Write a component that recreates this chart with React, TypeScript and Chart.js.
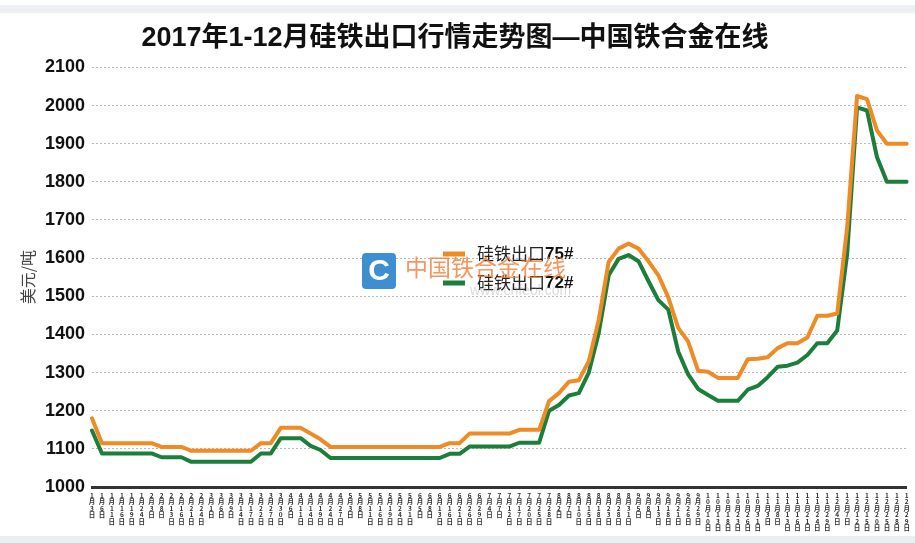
import React, { useEffect, useRef } from 'react';
import { Chart, registerables } from 'chart.js';

Chart.register(...registerables);

const chartTitle = '2017年1-12月硅铁出口行情走势图—中国铁合金在线';
const yAxisTitle = '美元/吨';
const seriesNames = ['硅铁出口75#', '硅铁出口72#'];
const seriesColors = ['#F08A24', '#1B7F3B'];
const yMin = 1000;
const yMax = 2100;
const yStep = 100;

const dates = [
  '1月3日', '1月6日', '1月11日', '1月16日', '1月19日', '1月24日',
  '2月3日', '2月8日', '2月13日', '2月16日', '2月21日', '2月24日',
  '3月1日', '3月6日', '3月9日', '3月14日', '3月17日', '3月22日', '3月27日', '3月30日',
  '4月6日', '4月11日', '4月14日', '4月19日', '4月24日', '4月27日',
  '5月3日', '5月8日', '5月11日', '5月16日', '5月19日', '5月24日', '5月31日',
  '6月5日', '6月8日', '6月13日', '6月16日', '6月21日', '6月26日', '6月29日',
  '7月4日', '7月7日', '7月12日', '7月17日', '7月20日', '7月25日', '7月28日',
  '8月2日', '8月7日', '8月10日', '8月15日', '8月18日', '8月23日', '8月28日', '8月31日',
  '9月5日', '9月8日', '9月13日', '9月18日', '9月21日', '9月26日', '9月29日',
  '10月10日', '10月13日', '10月18日', '10月23日', '10月26日', '10月31日',
  '11月3日', '11月8日', '11月13日', '11月16日', '11月21日', '11月24日', '11月29日',
  '12月4日', '12月7日', '12月12日', '12月15日', '12月20日', '12月25日', '12月28日', '12月29日',
];

const fesi75 = [
  1180,
  1115, 1115, 1115, 1115, 1115, 1115,
  1105, 1105, 1105,
  1095, 1095, 1095, 1095, 1095, 1095, 1095,
  1115, 1115,
  1155, 1155, 1155,
  1140, 1125,
  1105, 1105, 1105, 1105, 1105, 1105, 1105, 1105, 1105, 1105, 1105, 1105,
  1115, 1115,
  1140, 1140, 1140, 1140, 1140,
  1150, 1150, 1150,
  1225, 1246, 1276, 1280, 1330, 1438, 1590, 1625, 1638, 1625,
  1592, 1555, 1497, 1417, 1381, 1305, 1302, 1286, 1286, 1286,
  1335, 1336, 1340, 1364, 1377, 1377, 1392, 1449, 1449, 1455,
  1680, 2025, 2017, 1935, 1900, 1900, 1900,
];

const fesi72 = [
  1148,
  1088, 1088, 1088, 1088, 1088, 1088,
  1078, 1078, 1078,
  1066, 1066, 1066, 1066, 1066, 1066, 1066,
  1088, 1088,
  1128, 1128, 1128,
  1108, 1097,
  1076, 1076, 1076, 1076, 1076, 1076, 1076, 1076, 1076, 1076, 1076, 1076,
  1087, 1087,
  1106, 1106, 1106, 1106, 1106,
  1116, 1116, 1116,
  1200, 1215, 1240, 1246, 1300, 1404, 1555, 1598, 1608, 1592,
  1540, 1490, 1465, 1355, 1295, 1257, 1241, 1226, 1226, 1226,
  1255, 1265, 1288, 1315, 1318, 1326, 1346, 1377, 1377, 1410,
  1610, 1995, 1987, 1865, 1800, 1800, 1800,
];

const cjk = '"Liberation Sans", "Noto Sans CJK SC", sans-serif';

const overlayPlugin = {
  id: 'overlayPlugin',
  beforeDraw(chart: any) {
    const ctx = chart.ctx;
    ctx.save();
    ctx.fillStyle = '#ffffff';
    ctx.fillRect(0, 0, chart.width, chart.height);
    ctx.fillStyle = '#eceef2';
    ctx.fillRect(0, 5, chart.width, 8);
    ctx.fillRect(0, 536, chart.width, 7);
    ctx.restore();
  },
  afterDraw(chart: any) {
    const ctx = chart.ctx;
    ctx.save();
    chart.data.datasets.forEach((ds: any, i: number) => {
      const y = 254 + i * 29;
      ctx.strokeStyle = ds.borderColor;
      ctx.lineWidth = 5;
      ctx.lineCap = 'butt';
      ctx.beginPath();
      ctx.moveTo(443, y);
      ctx.lineTo(465, y);
      ctx.stroke();
      const m = /^(.*?)(\d+#)$/.exec(ds.label) || [ds.label, ds.label, ''];
      ctx.textBaseline = 'middle';
      ctx.textAlign = 'left';
      ctx.fillStyle = '#222';
      ctx.font = '17px "Noto Sans CJK SC", sans-serif';
      ctx.fillText(m[1], 477, y);
      const w = ctx.measureText(m[1]).width;
      ctx.font = 'bold 17px "Liberation Sans", sans-serif';
      ctx.fillStyle = '#111';
      ctx.fillText(m[2], 477 + w, y);
    });
    ctx.fillStyle = '#3d8fd1';
    const bx = 362, by = 253, bw = 34, bh = 36, r = 4;
    ctx.beginPath();
    ctx.moveTo(bx + r, by);
    ctx.lineTo(bx + bw - r, by);
    ctx.quadraticCurveTo(bx + bw, by, bx + bw, by + r);
    ctx.lineTo(bx + bw, by + bh - r);
    ctx.quadraticCurveTo(bx + bw, by + bh, bx + bw - r, by + bh);
    ctx.lineTo(bx + r, by + bh);
    ctx.quadraticCurveTo(bx, by + bh, bx, by + bh - r);
    ctx.lineTo(bx, by + r);
    ctx.quadraticCurveTo(bx, by, bx + r, by);
    ctx.fill();
    ctx.fillStyle = '#ffffff';
    ctx.font = 'bold 30px "Liberation Sans", sans-serif';
    ctx.textAlign = 'center';
    ctx.textBaseline = 'middle';
    ctx.fillText('C', bx + bw / 2, by + bh / 2 + 1);
    ctx.textAlign = 'left';
    ctx.fillStyle = 'rgba(240, 120, 50, 0.78)';
    ctx.font = '23px "Noto Sans CJK SC", sans-serif';
    ctx.fillText('中国铁合金在线', 405, 267);
    ctx.fillStyle = 'rgba(150, 150, 150, 0.35)';
    ctx.font = '14px "Liberation Sans", sans-serif';
    ctx.fillText('www.cnfeol.com', 470, 291);
    ctx.restore();
  },
};

export default function App() {
  const canvasRef = useRef<HTMLCanvasElement | null>(null);

  useEffect(() => {
    if (!canvasRef.current) return;
    const chart = new Chart(canvasRef.current, {
      type: 'line',
      data: {
        labels: dates,
        datasets: [
          {
            label: seriesNames[0],
            data: fesi75,
            borderColor: seriesColors[0],
            backgroundColor: seriesColors[0],
            borderWidth: 4,
            pointRadius: 0,
            tension: 0,
            borderJoinStyle: 'round',
            borderCapStyle: 'round',
          },
          {
            label: seriesNames[1],
            data: fesi72,
            borderColor: seriesColors[1],
            backgroundColor: seriesColors[1],
            borderWidth: 4,
            pointRadius: 0,
            tension: 0,
            borderJoinStyle: 'round',
            borderCapStyle: 'round',
          },
        ],
      },
      options: {
        responsive: false,
        animation: false,
        layout: { padding: { left: 0, right: 5, top: 0, bottom: 0 } },
        plugins: {
          legend: { display: false },
          tooltip: { enabled: false },
          title: {
            display: true,
            text: chartTitle,
            color: '#111',
            font: { family: cjk, size: 27, weight: 'bold', lineHeight: 1.2 },
            padding: { top: 22, bottom: 13 },
          },
        },
        scales: {
          x: {
            type: 'category',
            offset: false,
            afterFit: (scale: any) => {
              scale.height = 56;
            },
            grid: { display: false, drawTicks: false },
            border: { display: true, color: '#333', width: 3 },
            ticks: {
              autoSkip: false,
              maxRotation: 0,
              minRotation: 0,
              padding: 5,
              color: '#333',
              font: { family: '"Noto Sans CJK SC", sans-serif', size: 6.5, weight: 'bold', lineHeight: 1.0 },
              callback: function (this: any, value: any) {
                return Array.from(String(this.getLabelForValue(value)));
              },
            },
          },
          y: {
            min: yMin,
            max: yMax,
            afterFit: (scale: any) => {
              scale.width = 92;
            },
            grid: {
              display: true,
              drawTicks: false,
              color: '#b8b8b8',
              lineWidth: 1,
            },
            border: { display: false, dash: [2, 2] },
            ticks: {
              stepSize: yStep,
              padding: 7,
              color: '#111',
              font: { family: '"Liberation Sans", sans-serif', size: 18, weight: 'bold' },
              callback: (value: any) => String(value),
            },
            title: {
              display: true,
              text: yAxisTitle,
              color: '#444',
              font: { family: '"Noto Sans CJK SC", sans-serif', size: 16 },
              padding: { top: 18, bottom: 0 },
            },
          },
        },
      } as any,
      plugins: [overlayPlugin],
    });
    return () => chart.destroy();
  }, []);

  return (
    <div style={{ position: 'absolute', left: 0, top: 0, width: 915, height: 543 }}>
      <canvas ref={canvasRef} width={915} height={543} />
    </div>
  );
}
